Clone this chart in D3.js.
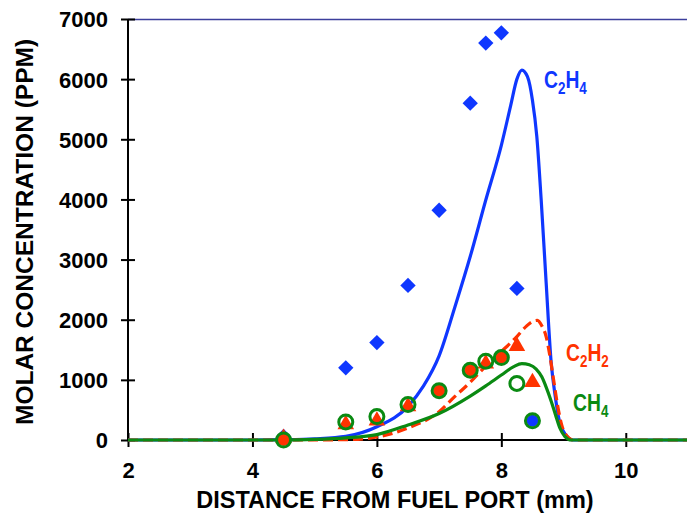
<!DOCTYPE html>
<html>
<head>
<meta charset="utf-8">
<script src="https://cdn.jsdelivr.net/npm/d3@7"></script>
<style>
  body { margin: 0; background: #fff; }
  svg { display: block; font-family: "Liberation Sans", Arial, sans-serif; font-weight: bold; }
</style>
</head>
<body>
<div id="graph"></div>
<script>
// measured points (distance in mm)
var xMeas = [4.5, 5.5, 6, 6.5, 7, 7.5, 7.75, 8, 8.25];
var c2h4Meas = [60, 1200, 1620, 2570, 3820, 5600, 6600, 6770, 2520];
var ch4X = [4.5, 5.5, 6, 6.5, 7, 7.5, 7.75, 8, 8.25, 8.5];
var ch4Meas = [0, 300, 390, 590, 820, 1160, 1310, 1370, 940, 320];
var c2h2X = [4.5, 5.5, 6, 6.5, 7.75, 8.25, 8.5];
var c2h2Meas = [30, 260, 320, 560, 1270, 1560, 960];
var redDotX = [4.5, 7, 7.5, 8];
var redDotVal = [0, 820, 1160, 1370];
var blueDotX = [8.5];
var blueDotVal = [320];

// model curves
var c2h4CurveX = [2, 4, 4.5, 5, 5.5, 6, 6.5, 6.75, 7, 7.25, 7.5, 7.75, 8, 8.15, 8.25, 8.33, 8.42, 8.5, 8.57, 8.64, 8.72, 8.8, 8.87, 8.93, 9.04, 9.15, 11];
var c2h4CurveY = [0, 0, 5, 20, 60, 220, 560, 900, 1400, 2200, 3050, 3990, 4900, 5560, 6000, 6150, 6040, 5650, 5050, 4000, 2620, 1300, 700, 330, 80, 0, 0];
var c2h2CurveX = [2, 4.5, 5.5, 6, 6.5, 7, 7.25, 7.5, 7.75, 8, 8.25, 8.4, 8.5, 8.58, 8.65, 8.72, 8.78, 8.84, 8.9, 8.97, 9.05, 9.15, 11];
var c2h2CurveY = [0, 0, 5, 50, 200, 470, 720, 960, 1230, 1470, 1720, 1890, 1970, 1990, 1900, 1720, 1400, 1000, 600, 250, 70, 0, 0];
var ch4CurveX = [2, 4.5, 5, 5.5, 6, 6.5, 7, 7.5, 7.75, 8, 8.2, 8.33, 8.45, 8.56, 8.65, 8.72, 8.8, 8.87, 8.94, 9.02, 9.12, 11];
var ch4CurveY = [0, 0, 10, 35, 90, 250, 440, 730, 900, 1080, 1220, 1270, 1250, 1180, 1050, 880, 650, 420, 200, 60, 0, 0];

var xTicks = [2, 4, 6, 8, 10];
var yTicks = [0, 1000, 2000, 3000, 4000, 5000, 6000, 7000];

var w = 687, h = 516;
var blue = "#0f37ff", red = "#ff3300", green = "#0a8a12";

var xScale = d3.scaleLinear().domain([2, 11]).range([128, 688]);
var yScale = d3.scaleLinear().domain([0, 7000]).range([440, 19]);

var svg = d3.select("#graph").append("svg")
    .attr("width", w)
    .attr("height", h);

// top border of plot area
svg.append("line")
    .attr("x1", xScale(2)).attr("x2", w)
    .attr("y1", yScale(7000) + 0.5).attr("y2", yScale(7000) + 0.5)
    .attr("stroke", "#3c3f9c")
    .attr("stroke-width", 1.3);

// axes
var xAxis = d3.axisBottom(xScale).tickValues(xTicks).tickSize(0).tickPadding(0).tickFormat(d3.format("d"));
var yAxis = d3.axisLeft(yScale).tickValues(yTicks).tickSize(0).tickPadding(0).tickFormat(d3.format("d"));

var gx = svg.append("g").attr("transform", "translate(0," + yScale(0) + ")").call(xAxis);
gx.select(".domain").remove();
gx.selectAll(".tick text")
    .attr("y", 38).attr("dy", 0)
    .attr("font-size", 22).attr("font-weight", "bold")
    .attr("font-family", "Liberation Sans, Arial, sans-serif")
    .attr("fill", "#000");
gx.selectAll(".tick").append("line")
    .attr("y1", -7).attr("y2", 7)
    .attr("stroke", "#000").attr("stroke-width", 2);
gx.append("line")
    .attr("x1", xScale(2)).attr("x2", w)
    .attr("stroke", "#000").attr("stroke-width", 2);

var gy = svg.append("g").attr("transform", "translate(" + xScale(2) + ",0)").call(yAxis);
gy.select(".domain").remove();
gy.selectAll(".tick text")
    .attr("x", -20).attr("dy", "0.36em")
    .attr("font-size", 22).attr("font-weight", "bold")
    .attr("font-family", "Liberation Sans, Arial, sans-serif")
    .attr("fill", "#000");
gy.selectAll(".tick").append("line")
    .attr("x1", -7).attr("x2", 7)
    .attr("stroke", "#000").attr("stroke-width", 2);
gy.append("line")
    .attr("y1", yScale(0) + 1).attr("y2", yScale(7000))
    .attr("stroke", "#000").attr("stroke-width", 2);

// axis titles
svg.append("text")
    .attr("x", 395).attr("y", 508)
    .attr("text-anchor", "middle")
    .attr("font-size", 23.5)
    .text("DISTANCE FROM FUEL PORT (mm)");

svg.append("text")
    .attr("transform", "translate(33,232) rotate(-90)")
    .attr("text-anchor", "middle")
    .attr("font-size", 24.5)
    .text("MOLAR CONCENTRATION (PPM)");

// model curves
function pairs(xs, ys) { return xs.map(function(x, i) { return [x, ys[i]]; }); }
var line = d3.line()
    .x(function(d) { return xScale(d[0]); })
    .y(function(d) { return yScale(d[1]); })
    .curve(d3.curveMonotoneX);

svg.append("path").datum(pairs(c2h4CurveX, c2h4CurveY))
    .attr("d", line).attr("fill", "none")
    .attr("stroke", blue).attr("stroke-width", 3.2);
svg.append("path").datum(pairs(c2h2CurveX, c2h2CurveY))
    .attr("d", line).attr("fill", "none")
    .attr("stroke", red).attr("stroke-width", 3.2)
    .attr("stroke-dasharray", "10,5");
svg.append("path").datum(pairs(ch4CurveX, ch4CurveY))
    .attr("d", line).attr("fill", "none")
    .attr("stroke", green).attr("stroke-width", 3.2);

// measured markers
svg.selectAll(".diamond").data(pairs(xMeas, c2h4Meas))
    .enter().append("path")
    .attr("class", "diamond")
    .attr("d", d3.symbol().type(d3.symbolDiamond2).size(150))
    .attr("transform", function(d) { return "translate(" + xScale(d[0]) + "," + yScale(d[1]) + ")"; })
    .attr("fill", blue);

svg.selectAll(".tri").data(pairs(c2h2X, c2h2Meas))
    .enter().append("path")
    .attr("class", "tri")
    .attr("d", d3.symbol().type(d3.symbolTriangle).size(120))
    .attr("transform", function(d) { return "translate(" + xScale(d[0]) + "," + yScale(d[1]) + ")"; })
    .attr("fill", red);

svg.selectAll(".rdot").data(pairs(redDotX, redDotVal))
    .enter().append("circle")
    .attr("class", "rdot")
    .attr("cx", function(d) { return xScale(d[0]); })
    .attr("cy", function(d) { return yScale(d[1]); })
    .attr("r", 6)
    .attr("fill", red);

svg.selectAll(".bdot").data(pairs(blueDotX, blueDotVal))
    .enter().append("circle")
    .attr("class", "bdot")
    .attr("cx", function(d) { return xScale(d[0]); })
    .attr("cy", function(d) { return yScale(d[1]); })
    .attr("r", 6)
    .attr("fill", blue);

svg.selectAll(".ring").data(pairs(ch4X, ch4Meas))
    .enter().append("circle")
    .attr("class", "ring")
    .attr("cx", function(d) { return xScale(d[0]); })
    .attr("cy", function(d) { return yScale(d[1]); })
    .attr("r", 7)
    .attr("fill", "none")
    .attr("stroke", green)
    .attr("stroke-width", 3);

// series labels with subscripts
function label(x, y, color, parts) {
    var t = svg.append("g")
        .attr("transform", "translate(" + x + "," + y + ") scale(0.84,1)")
        .append("text")
        .attr("font-size", 23)
        .attr("fill", color);
    parts.forEach(function(p) {
        t.append("tspan")
            .attr("font-size", p[1] ? 16 : 23)
            .attr("dy", p[1] ? 6 : (p[2] ? -6 : 0))
            .text(p[0]);
    });
}
label(544, 88, blue, [["C"], ["2", true], ["H", false, true], ["4", true]]);
label(566, 361, red, [["C"], ["2", true], ["H", false, true], ["2", true]]);
label(573, 411, green, [["CH"], ["4", true]]);
</script>
</body>
</html>
